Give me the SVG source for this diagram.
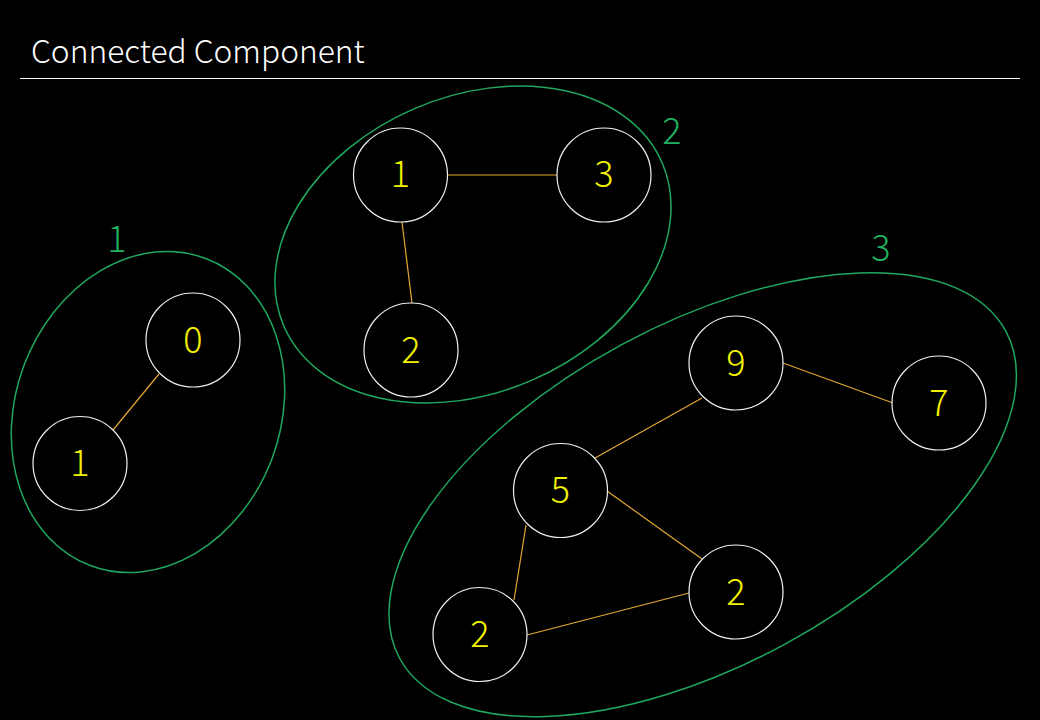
<svg xmlns="http://www.w3.org/2000/svg" width="1040" height="720" viewBox="0 0 1040 720">
<style>
.bg{fill:#000}
.title{font-family:"Noto Sans CJK KR","Noto Sans",sans-serif;font-size:31.7px;font-weight:300;fill:#fff}
.grp{fill:none;stroke:#1fa85e;stroke-width:1.5}
.glab{font-family:"Noto Sans CJK KR","Noto Sans",sans-serif;font-size:36px;font-weight:300;fill:#20b060;text-anchor:middle}
.node circle{fill:#000;stroke:#f0f0f0;stroke-width:1.2}
.node text{font-family:"Noto Sans CJK KR","Noto Sans",sans-serif;font-size:36px;font-weight:300;fill:#f2f200;text-anchor:middle}
.edge{stroke:#e3a832;stroke-width:1.2;fill:none}
</style>
<rect class="bg" x="0" y="0" width="1040" height="720"/>
<text class="title" x="31" y="63">Connected Component</text>
<line x1="20" y1="78.5" x2="1020" y2="78.5" stroke="#fff" stroke-width="1"/>

<g id="groups">
  <ellipse id="group1" class="grp" cx="148" cy="412" rx="132.5" ry="164" transform="rotate(20.4 148 412)"/>
  <ellipse id="group2" class="grp" cx="473" cy="244.5" rx="206" ry="148" transform="rotate(-23.3 473 244.5)"/>
  <ellipse id="group3" class="grp" cx="702.7" cy="494.7" rx="344.4" ry="170.6" transform="rotate(-28.35 702.7 494.7)"/>
  <text class="glab" x="117" y="252">1</text>
  <text class="glab" x="672" y="144">2</text>
  <text class="glab" x="881" y="261">3</text>
</g>

<g id="connectors">
  <line class="edge" x1="159" y1="374" x2="113" y2="430"/>
  <line class="edge" x1="448" y1="175" x2="557" y2="175"/>
  <line class="edge" x1="402" y1="222" x2="412" y2="303"/>
  <line class="edge" x1="783" y1="363" x2="893" y2="403"/>
  <line class="edge" x1="702" y1="398" x2="595" y2="458"/>
  <line class="edge" x1="607" y1="491" x2="702" y2="559"/>
  <line class="edge" x1="526" y1="525" x2="514" y2="600"/>
  <line class="edge" x1="527" y1="635" x2="689" y2="593"/>
</g>

<g id="n0" class="node"><circle cx="193" cy="340" r="47"/><text x="193" y="353">0</text></g>
<g id="n1a" class="node"><circle cx="80" cy="463.5" r="47"/><text x="80" y="476">1</text></g>
<g id="n1b" class="node"><circle cx="400.5" cy="175" r="47"/><text x="400.5" y="187">1</text></g>
<g id="n3" class="node"><circle cx="604" cy="175" r="47"/><text x="604" y="187">3</text></g>
<g id="n2a" class="node"><circle cx="411" cy="350" r="47"/><text x="411" y="363">2</text></g>
<g id="n9" class="node"><circle cx="736" cy="363" r="47"/><text x="736" y="376">9</text></g>
<g id="n7" class="node"><circle cx="939" cy="403" r="47"/><text x="939" y="416">7</text></g>
<g id="n5" class="node"><circle cx="560.5" cy="490.5" r="47"/><text x="560.5" y="503">5</text></g>
<g id="n2b" class="node"><circle cx="736" cy="592" r="47"/><text x="736" y="605">2</text></g>
<g id="n2c" class="node"><circle cx="480" cy="634.5" r="47"/><text x="480" y="647">2</text></g>
</svg>
